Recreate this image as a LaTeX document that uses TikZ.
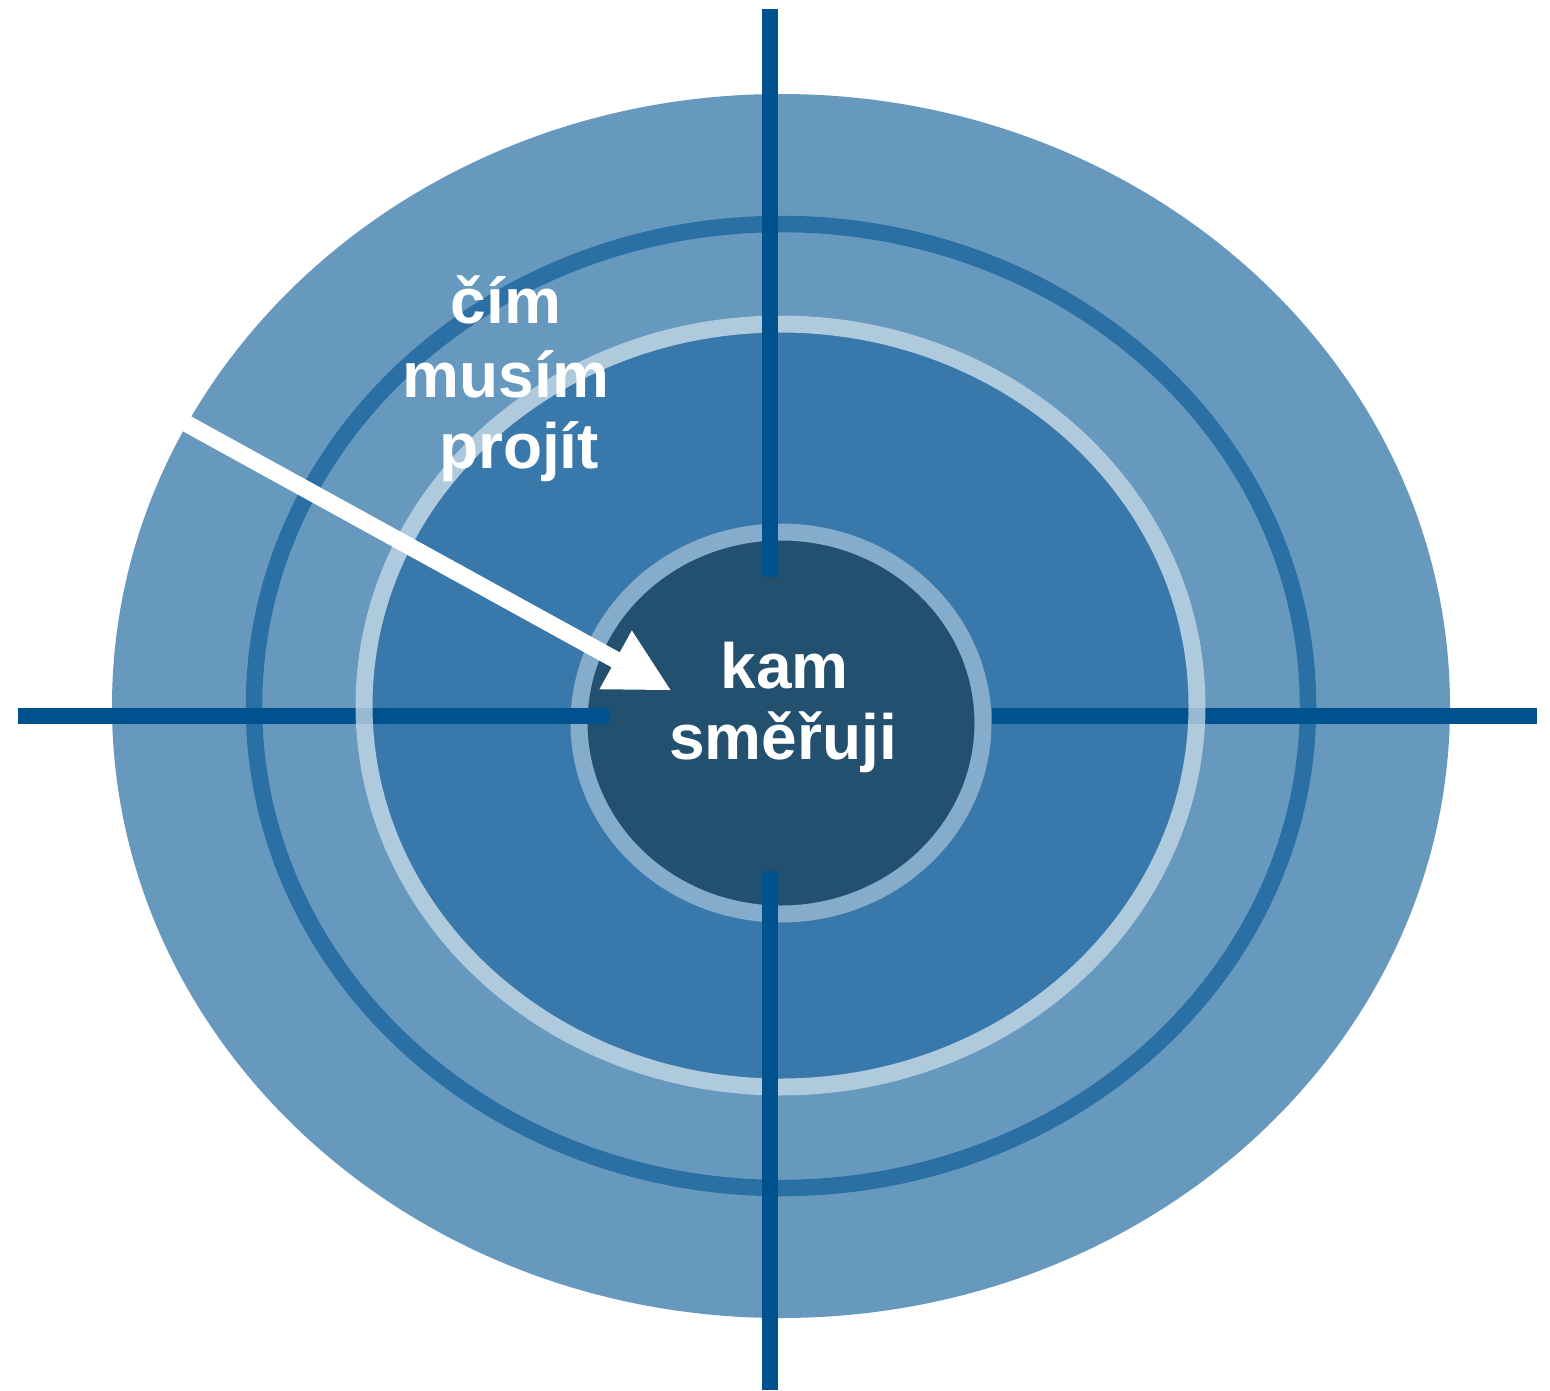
\documentclass[tikz,border=0pt]{standalone}
\usepackage{fontspec}
\setmainfont{Liberation Sans}
\usetikzlibrary{arrows.meta}
\definecolor{outerblue}{HTML}{6799BF}
\definecolor{ringblue}{HTML}{2B70A5}
\definecolor{midblue}{HTML}{3878AB}
\definecolor{innerring}{HTML}{86ACCC}
\definecolor{innerfill}{HTML}{24506F}
\definecolor{crossblue}{HTML}{00528F}
\tikzset{
  crossline/.style={draw=crossblue, line width=16pt},
  lbl/.style={text=white, font=\fontsize{64}{70}\selectfont\bfseries, inner sep=0pt, anchor=base},
  arrowline/.style={draw=white, line width=17pt, -{Triangle[length=64pt 0 0, width=62pt 0 0]}}
}
\begin{document}
\begin{tikzpicture}[x=1pt, y=-1pt]
\fill[white] (0,0) rectangle (1550,1390);
\useasboundingbox (0,0) rectangle (1550,1390);
% outer disc
\fill[outerblue] (781,706) ellipse [x radius=669pt, y radius=612pt];
% dark ring
\draw[ringblue, line width=16.5pt] (781,706) ellipse [x radius=527pt, y radius=482pt];
% middle disc
\fill[midblue] (780.5,705.5) ellipse [x radius=425pt, y radius=390pt];
% inner disc
\draw[innerring, fill=innerfill, line width=17pt] (781,723) ellipse [x radius=202pt, y radius=191pt];
% horizontal cross lines
\coordinate (hl1) at (18,716);
\coordinate (hl2) at (609,716);
\coordinate (hr1) at (992,716);
\coordinate (hr2) at (1537,716);
\draw[crossline] (hl1) -- (hl2);
\draw[crossline] (hr1) -- (hr2);
% light ring (translucent)
\draw[white, opacity=0.6, line width=17pt] (780.5,705.5) ellipse [x radius=416.5pt, y radius=381.5pt];
% vertical cross lines
\coordinate (vt1) at (770,9);
\coordinate (vt2) at (770,577);
\coordinate (vb1) at (770,871);
\coordinate (vb2) at (770,1390);
\draw[crossline, line width=16.5pt] (vt1) -- (vt2);
\draw[crossline, line width=16.5pt] (vb1) -- (vb2);
% arrow
\coordinate (astart) at (177.7,418.7);
\coordinate (atip) at (671.7,690.7);
\draw[arrowline] (astart) -- (atip);
% labels
\node[lbl] (l1) at (506,323) {čím};
\node[lbl] (l2) at (506,397.5) {musím};
\node[lbl] (l3) at (519,468) {projít};
\node[lbl] (c1) at (784.5,688) {kam};
\node[lbl] (c2) at (783,759) {směřuji};
\end{tikzpicture}
\end{document}
